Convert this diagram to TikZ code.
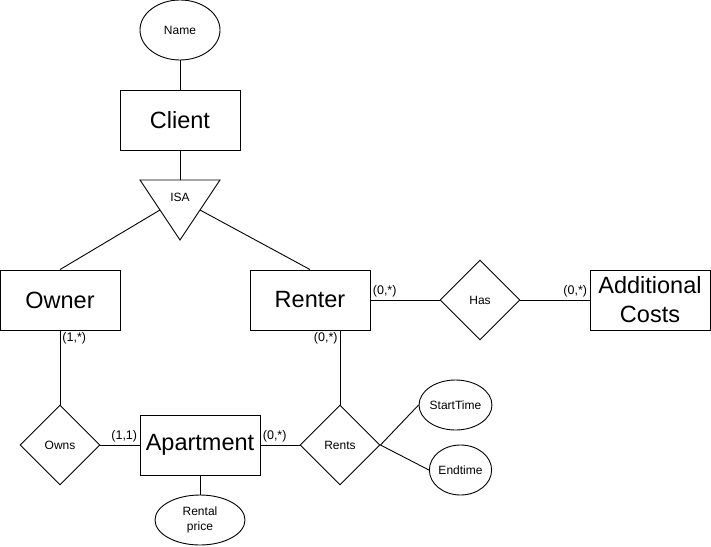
\documentclass[tikz,border=0pt]{standalone}
\usepackage{fontspec}
\setmainfont{Liberation Sans}
\usepackage{tikz}
\usetikzlibrary{shapes.geometric,positioning,calc}

\begin{document}
\begin{tikzpicture}[x=1pt, y=-1pt, line width=0.9pt,
    entity/.style={draw, rectangle, minimum width=120pt, minimum height=60pt,
      inner sep=0pt, align=center, font=\fontsize{23.5}{29}\selectfont},
    relation/.style={draw, diamond, aspect=1, minimum size=80pt, inner sep=0pt,
      font=\fontsize{12}{14}\selectfont},
    attr/.style={draw, ellipse, inner sep=0pt, align=center,
      font=\fontsize{12}{15}\selectfont},
    card/.style={inner sep=2pt, font=\fontsize{12.5}{14}\selectfont}]
        \useasboundingbox (0,0) rectangle (711,546);

        % entities
        \node[entity] (client) at (180,120) {Client};
        \node[entity] (owner) at (60,300) {Owner};
        \node[entity] (renter) at (310,300) {Renter};
        \node[entity] (apartment) at (200,445) {Apartment};
        \node[entity] (costs) at (650,300) {Additional\\Costs};

        % attributes
        \node[attr, minimum width=80pt, minimum height=60pt] (name)
        at (180,30) {Name};
        \node[attr, minimum width=90pt, minimum height=50pt] (price)
        at (200,520) {Rental\\price};
        \node[attr, minimum width=70pt, minimum height=50pt] (start)
        at (455.5,405) {StartTime};
        \node[attr, minimum width=60pt, minimum height=50pt] (end)
        at (460.5,470) {Endtime};

        % relationships
        \node[relation] (has) at (480,300) {Has};
        \node[relation] (owns) at (60,445) {Owns};
        \node[relation] (rents) at (340,445) {Rents};

        % ISA triangle
        \draw (140,180) coordinate (isatl) -- (220,180) coordinate (isatr)
        -- (180,240) coordinate (isab) -- cycle;
        \node[font=\fontsize{12}{14}\selectfont] (isa) at (180,197) {ISA};
        \coordinate (isaleft) at ($(isatl)!0.5!(isab)$);
        \coordinate (isaright) at ($(isatr)!0.5!(isab)$);
        \coordinate (isatop) at ($(isatl)!0.5!(isatr)$);

        \draw (name) -- (client);
        \draw (client) -- (isatop);
        \draw (isaleft) -- (owner.north);
        \draw (isaright) -- (renter.north);

        \draw (renter) -- (has) node[card, at start, anchor=south west] {(0,*)};
        \draw (has) -- (costs) node[card, at end, anchor=south east] {(0,*)};

        \draw (owner) -- (owns) node[card, at start, anchor=north west] {(1,*)};
        \draw (rents.north |- renter.south) -- (rents.north)
        node[card, at start, anchor=north east] {(0,*)};

        \draw (owns) -- (apartment)
        node[card, at end, anchor=south east] {(1,1)};
        \draw (apartment) -- (rents)
        node[card, at start, anchor=south west] {(0,*)};

        \draw (apartment) -- (price);
        \draw (rents.east) -- (start.west);
        \draw (rents.east) -- (end.west);
      \end{tikzpicture}
\end{document}
